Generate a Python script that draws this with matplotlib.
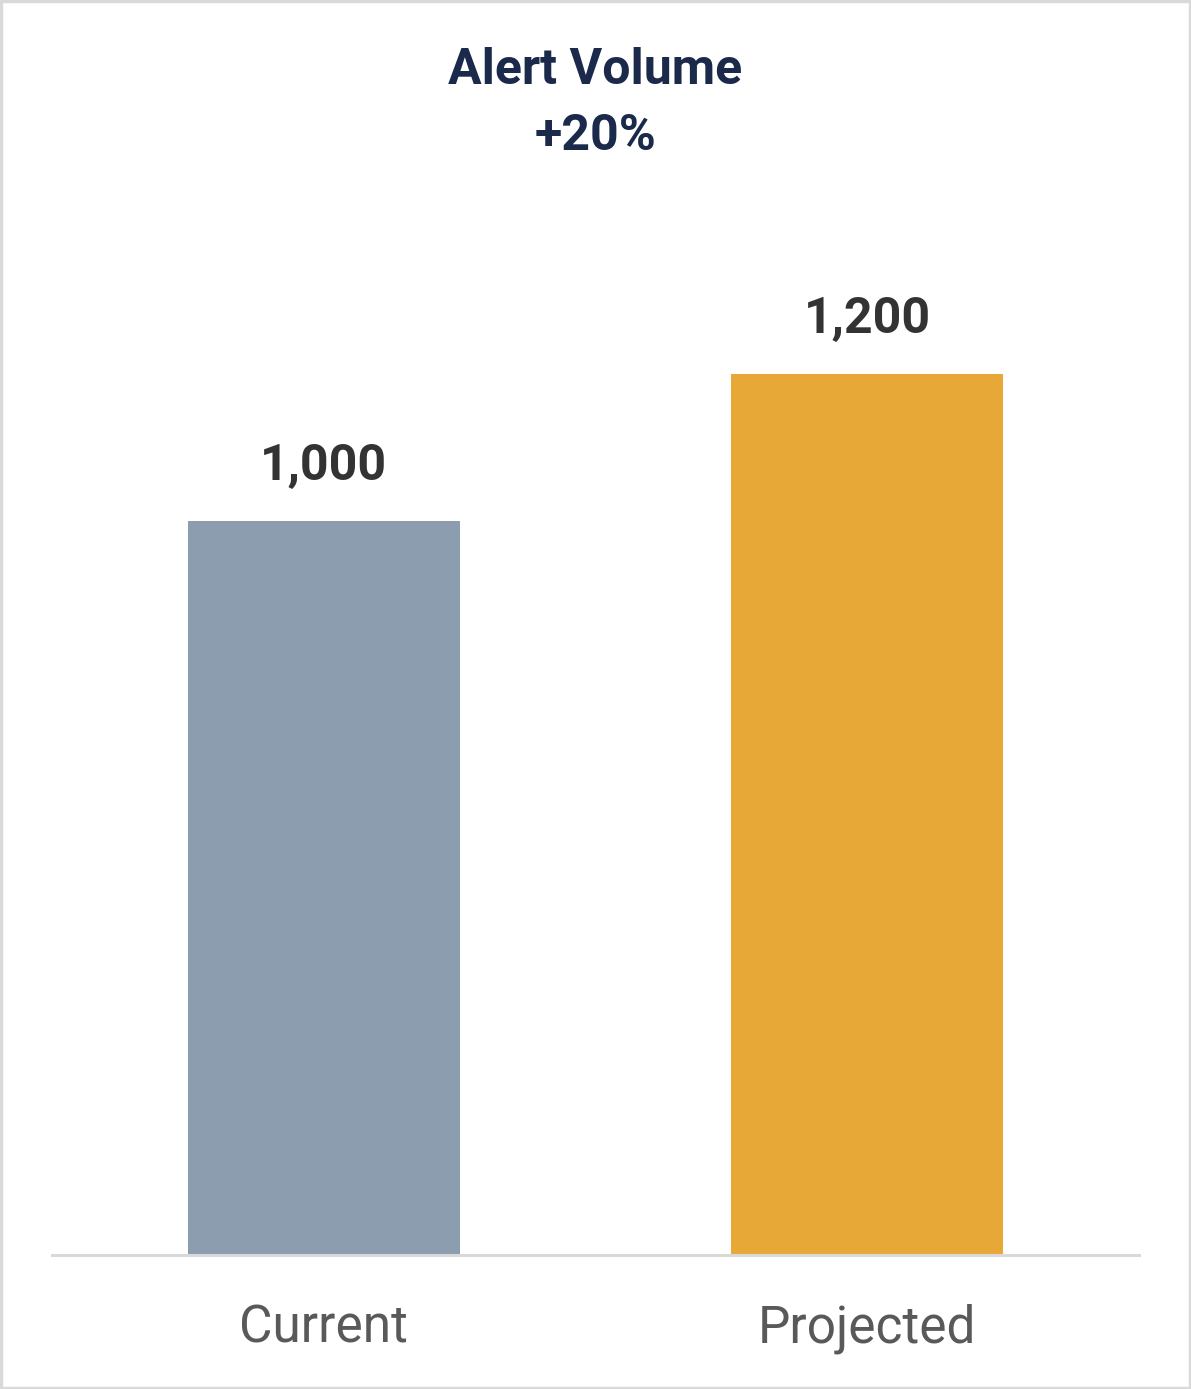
import matplotlib.pyplot as plt
from matplotlib.patches import Rectangle

# data
categories = ['Current', 'Projected']
values = [1000, 1200]
bar_colors = ['#8c9daf', '#e8a838']
title_lines = ['Alert Volume', '+20%']

plt.rcParams['font.family'] = ['Roboto', 'DejaVu Sans']

fig = plt.figure(figsize=(11.91, 13.89), dpi=100)
ax = fig.add_axes([52 / 1191, (1389 - 1255) / 1389, 1087 / 1191, 1028 / 1389])

bars = ax.bar(range(len(categories)), values, width=0.5, color=bar_colors, zorder=2)
for b, v in zip(bars, values):
    ax.annotate(f'{v:,}', (b.get_x() + b.get_width() / 2, v), xytext=(0, 22),
                textcoords='offset points', ha='center', va='bottom',
                fontsize=36, fontweight='bold', color='#333333')

ax.set_xlim(-0.5, 1.5)
ax.set_ylim(0, 1400)
ax.set_xticks(range(len(categories)))
ax.set_xticklabels(categories, fontsize=37, color='#595959')
ax.tick_params(axis='x', length=0, pad=35)
ax.set_yticks([])
for s in ['top', 'right', 'left']:
    ax.spines[s].set_visible(False)
ax.spines['bottom'].set_color('#d9d9d9')
ax.spines['bottom'].set_linewidth(2.2)
ax.spines['bottom'].set_zorder(3)

fig.text(0.5, 1 - 71 / 1389, title_lines[0], ha='center', va='center',
         fontsize=36, fontweight='bold', color='#1b2a4a')
fig.text(0.5, 1 - 137 / 1389, title_lines[1], ha='center', va='center',
         fontsize=36, fontweight='bold', color='#1b2a4a')

# outer border
fig.patches.append(Rectangle((0.001, 0.001), 0.998, 0.998, transform=fig.transFigure,
                             fill=False, edgecolor='#d9d9d9', linewidth=2.5))

fig.savefig('out.png', dpi=100, facecolor='white')
